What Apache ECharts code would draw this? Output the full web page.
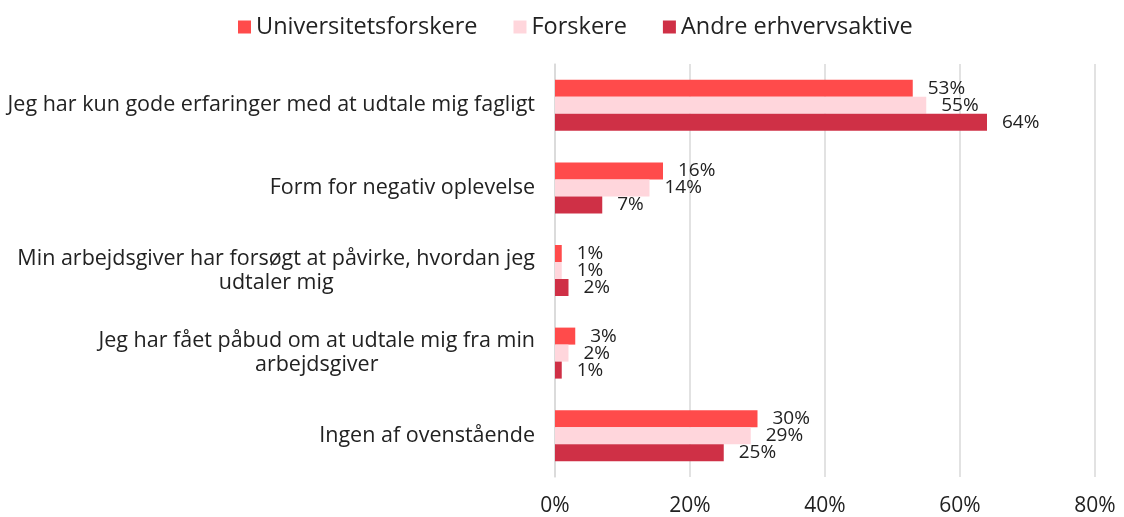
<!DOCTYPE html>
<html>
<head>
<meta charset="utf-8">
<script src="https://cdn.jsdelivr.net/npm/echarts@6/dist/echarts.min.js"></script>
<style>
  html, body { margin: 0; padding: 0; background: #fff; }
  #chart { width: 1124px; height: 517px; }
</style>
</head>
<body>
<div id="chart"></div>
<script>
const categories = [
  'Jeg har kun gode erfaringer med at udtale mig fagligt',
  'Form for negativ oplevelse',
  'Min arbejdsgiver har forsøgt at påvirke, hvordan jeg\nudtaler mig',
  'Jeg har fået påbud om at udtale mig fra min\narbejdsgiver',
  'Ingen af ovenstående'
];
const universitetsforskere = [53, 16, 1, 3, 30];
const forskere = [55, 14, 1, 2, 29];
const andreErhvervsaktive = [64, 7, 2, 1, 25];
const xTicks = [0, 20, 40, 60, 80];

const font = '"Open Sans", Lato, sans-serif';

function barSeries(name, data, color) {
  return {
    name: name,
    type: 'bar',
    data: data,
    barWidth: 17,
    barGap: '0%',
    itemStyle: { color: color },
    label: {
      show: true,
      position: 'right',
      distance: 15,
      formatter: '{c}%',
      fontFamily: font,
      fontSize: 19,
      color: '#222'
    }
  };
}

const chart = echarts.init(document.getElementById('chart'));
chart.setOption({
  animation: false,
  textStyle: { fontFamily: font },
  legend: {
    top: 10,
    left: 233,
    itemWidth: 13,
    itemHeight: 13,
    itemGap: 36,
    icon: 'rect',
    textStyle: { fontSize: 23.5, color: '#222', fontFamily: font }
  },
  grid: { left: 555, right: 29, top: 64, bottom: 40 },
  xAxis: {
    type: 'value',
    min: xTicks[0],
    max: xTicks[xTicks.length - 1],
    interval: 20,
    axisLabel: { formatter: '{value}%', fontSize: 21, color: '#222', margin: 19, fontFamily: font },
    axisLine: { show: false },
    axisTick: { show: false },
    splitLine: { lineStyle: { color: '#d9d9d9', width: 1.5 } }
  },
  yAxis: {
    type: 'category',
    data: categories,
    inverse: true,
    axisTick: { show: false },
    axisLine: { show: true, lineStyle: { color: '#d9d9d9', width: 1.5 } },
    axisLabel: {
      color: '#222',
      margin: 20,
      align: 'right',
      // center each wrapped line under the first one
      formatter: function (v) {
        return v.split('\n').map(function (l) { return '{c|' + l + '}'; }).join('\n');
      },
      rich: {
        c: { fontSize: 21.5, lineHeight: 24, align: 'center', color: '#222', fontFamily: font }
      }
    }
  },
  series: [
    barSeries('Universitetsforskere', universitetsforskere, '#ff4b4b'),
    barSeries('Forskere', forskere, '#ffd6dc'),
    barSeries('Andre erhvervsaktive', andreErhvervsaktive, '#cf3046')
  ]
});
</script>
</body>
</html>
